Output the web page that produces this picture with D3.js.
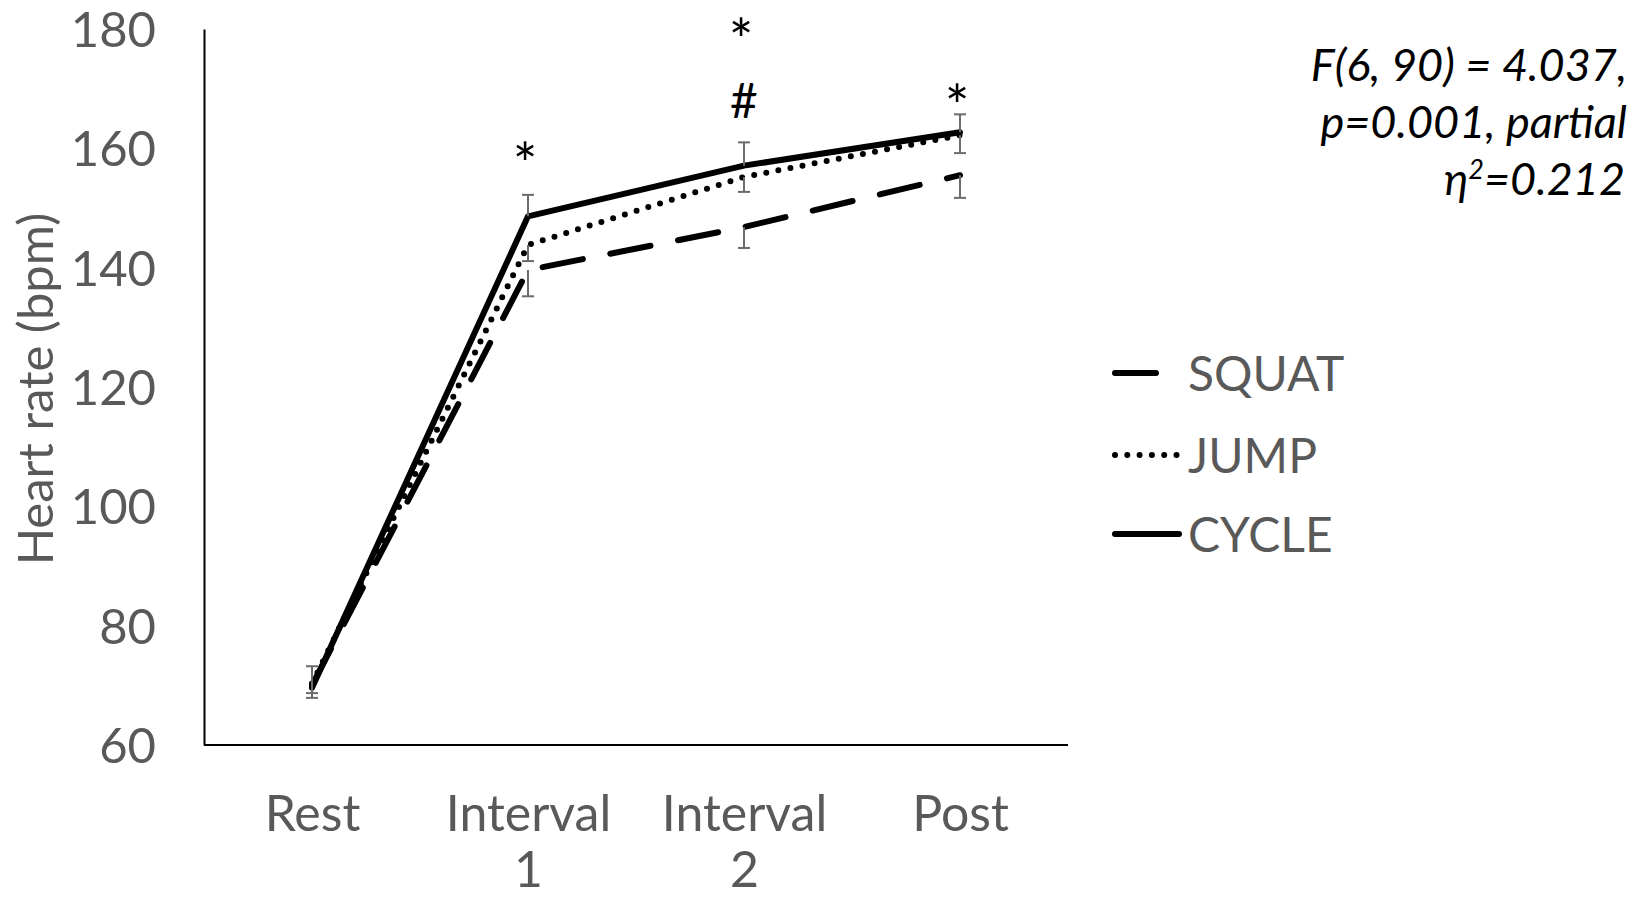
<!DOCTYPE html>
<html>
<head>
<meta charset="utf-8">
<script src="https://cdn.jsdelivr.net/npm/d3@7"></script>
<style>
  body { margin: 0; background: #fff; }
  text { font-family: Lato, "Open Sans", sans-serif; }
</style>
</head>
<body>
<div id="canvas"></div>
<script>
// -------------------------------------------- Data
const categories = ["Rest", "Interval 1", "Interval 2", "Post"];
const tickLabels = [["Rest"], ["Interval", "1"], ["Interval", "2"], ["Post"]];
const yTicks = [60, 80, 100, 120, 140, 160, 180];

const squat = [70.0, 139.6, 146.8, 155.5];
const squatErr = [2.1, 4.4, 3.5, 3.8];
const jump = [70.3, 143.8, 155.2, 162.2];
const jumpErr = [1.6, 2.7, 2.5, 3.0];
const cycle = [69.6, 148.6, 157.1, 162.7];
const cycleErr = [3.6, 3.6, 3.9, 3.0];

// significance marks: category, symbol, height (bpm)
const markCats = ["Interval 1", "Interval 2", "Interval 2", "Post"];
const markSymbols = ["*", "*", "#", "*"];
const markValues = [159.3, 180.0, 167.9, 169.0];

const statLines = ["F(6, 90) = 4.037,", "p=0.001, partial"];

// -------------------------------------------- Dimensiones del lienzo
const width = 1638;
const height = 897;
const margin = { top: 29, left: 204, bottom: 152, right: 570 };
const iwidth = width - margin.left - margin.right;
const iheight = height - margin.top - margin.bottom;

const svg = d3.select("#canvas").append("svg")
  .attr("width", width)
  .attr("height", height);

const g = svg.append("g")
  .attr("transform", `translate(${margin.left},${margin.top})`);

// -- Escalas
const x = d3.scalePoint().domain(categories).range([0, iwidth]).padding(0.5);
const y = d3.scaleLinear().domain([60, 180]).range([iheight, 0]);

// -- Eje Y
const yAxis = g.append("g")
  .call(d3.axisLeft(y).tickValues(yTicks).tickSize(0).tickPadding(48));
yAxis.select(".domain").attr("stroke", "#000").attr("stroke-width", 2);
yAxis.selectAll("text")
  .attr("fill", "#595959")
  .style("font-size", "49px")
  .attr("dy", "0.36em");

// -- Eje X
const xAxis = g.append("g")
  .attr("transform", `translate(0,${iheight})`)
  .call(d3.axisBottom(x).tickSize(0).tickSizeOuter(0));
xAxis.select(".domain").attr("stroke", "#000").attr("stroke-width", 2)
  .attr("d", `M0,0H${iwidth}`);
xAxis.selectAll("text").remove();
xAxis.selectAll(".tick").each(function (d, i) {
  const t = d3.select(this).append("text")
    .attr("fill", "#595959")
    .attr("text-anchor", "middle")
    .style("font-size", "50px")
    .attr("y", 86);
  tickLabels[i].forEach((s, k) => {
    t.append("tspan").attr("x", 0).attr("dy", k === 0 ? 0 : 56).text(s);
  });
});

// -- Titulo eje Y
svg.append("text")
  .attr("transform", "translate(53,389) rotate(-90)")
  .attr("text-anchor", "middle")
  .attr("fill", "#595959")
  .style("font-size", "49px")
  .text("Heart rate (bpm)");

// -- Series
const series = [
  { name: "SQUAT", values: squat, err: squatErr, dir: -1, dash: "41 28" },
  { name: "JUMP", values: jump, err: jumpErr, dir: -1, dash: "0 12.3" },
  { name: "CYCLE", values: cycle, err: cycleErr, dir: 1, dash: null }
];

const line = d3.line()
  .x((d, i) => x(categories[i]))
  .y((d) => y(d));

series.forEach((s) => {
  g.append("path")
    .datum(s.values)
    .attr("fill", "none")
    .attr("stroke", "#000")
    .attr("stroke-width", 6)
    .attr("stroke-linecap", "round")
    .attr("stroke-linejoin", "round")
    .attr("stroke-dasharray", s.dash)
    .attr("d", line);
});

// -- Barras de error
series.forEach((s) => {
  const eb = g.append("g").attr("stroke", "#6b6b6b").attr("stroke-width", 2);
  s.values.forEach((v, i) => {
    const cx = x(categories[i]);
    const end = y(v + s.dir * s.err[i]);
    eb.append("line").attr("x1", cx).attr("x2", cx).attr("y1", y(v)).attr("y2", end);
    eb.append("line").attr("x1", cx - 6).attr("x2", cx + 6).attr("y1", end).attr("y2", end);
  });
});

// -- Marcas de significancia
markSymbols.forEach((m, i) => {
  const star = m === "*";
  g.append("text")
    .attr("x", x(markCats[i]) + (star ? -3 : 0))
    .attr("y", y(markValues[i]) + (star ? 32 : 17))
    .attr("text-anchor", "middle")
    .attr("fill", "#000")
    .style("font-size", star ? "58px" : "48px")
    .text(m);
});

// -- Leyenda
const legend = svg.append("g");
const legY = [373, 455, 534];
const legEnd = [1159, 1177, 1179];
series.forEach((s, i) => {
  legend.append("line")
    .attr("x1", 1115).attr("x2", legEnd[i])
    .attr("y1", legY[i]).attr("y2", legY[i])
    .attr("stroke", "#000")
    .attr("stroke-width", 6)
    .attr("stroke-linecap", "round")
    .attr("stroke-dasharray", s.dash);
  legend.append("text")
    .attr("x", 1188)
    .attr("y", legY[i] + 18)
    .attr("fill", "#595959")
    .style("font-size", "48px")
    .text(s.name);
});

// -- Estadistico
const stat = svg.append("g")
  .attr("text-anchor", "end")
  .attr("fill", "#000")
  .style("font-style", "italic")
  .style("font-size", "45px");
statLines.forEach((s, i) => {
  stat.append("text").attr("x", 1627).attr("y", 81 + i * 57).text(s);
});
const eta = stat.append("text").attr("x", 1625).attr("y", 195);
eta.append("tspan").text("η");
eta.append("tspan").attr("dy", -16).style("font-size", "27px").text("2");
eta.append("tspan").attr("dy", 16).text("=0.212");
</script>
</body>
</html>
